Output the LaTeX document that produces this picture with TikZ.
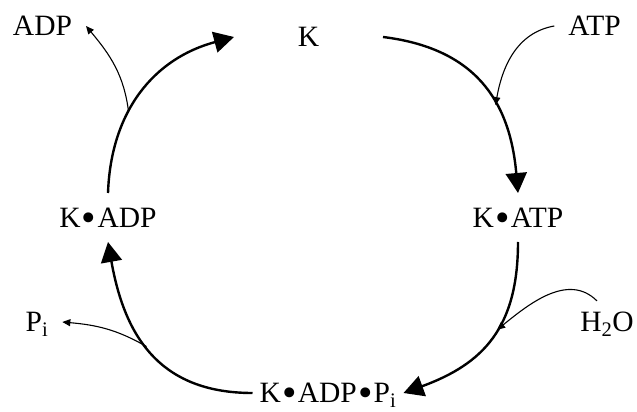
\documentclass[tikz,border=0pt]{standalone}
\usepackage{amsmath}
\usepackage{graphicx}
\usepackage{fontspec}
\setmainfont{Liberation Serif}
\usetikzlibrary{arrows.meta}
\newcommand{\bul}{\kern0.04em\raisebox{-0.13em}{\scalebox{1.4}{\textbullet}}\kern0.04em}

\begin{document}
\begin{tikzpicture}[x=1pt,y=1pt,
  lbl/.style={font=\fontsize{29.5pt}{32pt}\selectfont,text depth=0pt,inner sep=0.33em,outer sep=0pt},
  species/.style={lbl,minimum height=49pt},
  reagent/.style={lbl,inner xsep=14pt},
  cycarrow/.style={line width=2.4pt,-{Triangle[length=20pt,width=21pt]},looseness=1.15},
  sidearrow/.style={line width=1.1pt,-{Triangle[length=8pt,width=7pt]}}]
\useasboundingbox (0,0) rectangle (637,412);
\node[species,minimum width=149pt] (K) at (308.5,375) {K};
\node[species] (KATP) at (518,194.5) {K\bul ATP};
\node[species,minimum width=151pt] (KADPPi) at (328,19) {K\bul ADP\bul P$_{\text{i}}$};
\node[species] (KADP) at (108,194.5) {K\bul ADP};
\node[reagent] (ADP) at (42.5,386) {ADP};
\node[reagent] (ATP) at (594.5,386) {ATP};
\node[reagent] (H2O) at (607,90) {H$_{\text{2}}$O};
\node[reagent] (Pi) at (37,90) {P$_{\text{i}}$};
\draw[cycarrow] (K.east) to[out=-7,in=95] coordinate[pos=0.62] (atpin) (KATP.north);
\draw[cycarrow] (KATP.south) to[out=-90,in=20] coordinate[pos=0.44] (h2oin) (KADPPi.east);
\draw[cycarrow] (KADPPi.west) to[out=180,in=-80] coordinate[pos=0.535] (piout) (KADP.south);
\draw[cycarrow,looseness=1.05] (KADP.north) to[out=88,in=195] coordinate[pos=0.38] (adpout) (K.west);
\draw[sidearrow] (ATP.west) to[out=190,in=80] (atpin);
\draw[sidearrow] ([shift={(-10pt,8pt)}]H2O.north) to[out=135,in=39] (h2oin);
\draw[sidearrow] (piout) to[out=150,in=-5] (Pi.east);
\draw[sidearrow] (adpout) to[out=97,in=-50] (ADP.east);
\end{tikzpicture}
\end{document}
